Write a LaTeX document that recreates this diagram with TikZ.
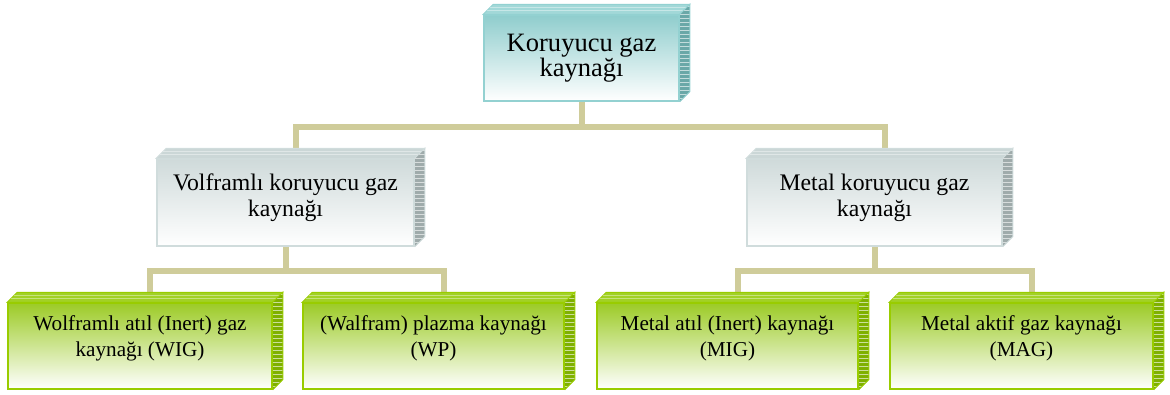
\documentclass[tikz,border=0pt]{standalone}
\usepackage{fontspec}
\setmainfont{Liberation Serif}
\usetikzlibrary{calc, backgrounds}

\newdimen\px \px=0.75pt

\definecolor{tealTop}{HTML}{8FCDCD}
\definecolor{tealEdge}{HTML}{93D1D1}
\definecolor{tealLid}{HTML}{A2D8D8}
\definecolor{tealSide}{HTML}{6AA8A8}
\definecolor{grayTop}{HTML}{CFDADA}
\definecolor{grayEdge}{HTML}{D0DCDC}
\definecolor{grayLid}{HTML}{CBD7D7}
\definecolor{graySide}{HTML}{9FABAB}
\definecolor{greenTop}{HTML}{9CCB26}
\definecolor{greenEdge}{HTML}{99CC00}
\definecolor{greenLid}{HTML}{A2D126}
\definecolor{greenSide}{HTML}{7FB000}
\definecolor{branchCol}{HTML}{CFCC9A}

\begin{document}
\begin{tikzpicture}[
    x=\px, y=-\px,
    face/.style={rectangle, line width=1.5\px, inner sep=0pt, minimum height=86\px},
    tealface/.style={face, draw=tealEdge, top color=tealTop, bottom color=white},
    grayface/.style={face, draw=grayEdge, top color=grayTop, bottom color=white},
    greenface/.style={face, draw=greenEdge, top color=greenTop, bottom color=white},
    bigtxt/.style={align=center, inner sep=0pt, font=\fontsize{19.9}{19}\selectfont},
    midtxt/.style={align=center, inner sep=0pt, font=\fontsize{17.8}{19.5}\selectfont},
    smalltxt/.style={align=center, inner sep=0pt, font=\fontsize{15.9}{19.5}\selectfont},
    branch/.style={draw=branchCol, line width=6\px}
]
\useasboundingbox (0,0) rectangle (1170,394);

% Boxes
\node[tealface, minimum width=195\px] (koruyucu) at (581.5,58) {};
\node[grayface, minimum width=257\px, minimum height=87\px] (volfram) at (285.5,202.5) {};
\node[grayface, minimum width=255\px, minimum height=87\px] (metal) at (874.5,202.5) {};
\node[greenface, minimum width=264\px] (wig) at (140,346) {};
\node[greenface, minimum width=261\px] (wp) at (433.5,346) {};
\node[greenface, minimum width=261\px] (mig) at (727.5,346) {};
\node[greenface, minimum width=263\px] (mag) at (1021.5,346) {};

% Lid and side of each box
\foreach \n/\sty in {koruyucu/teal, volfram/gray, metal/gray, wig/green, wp/green, mig/green, mag/green} {
    \filldraw[fill=\sty Lid, draw=\sty Edge, line width=1\px]
        (\n.north west) -- ++(10,-10) -- ($(\n.north east)+(10,-10)$) -- (\n.north east) -- cycle;
    \draw[white, opacity=0.4, line width=1.2\px]
        ($(\n.north west)+(3.5,-3.5)$) -- ($(\n.north east)+(3.5,-3.5)$)
        ($(\n.north west)+(6.5,-6.5)$) -- ($(\n.north east)+(6.5,-6.5)$);
    \begin{scope}
        \clip (\n.north east) -- ++(10,-10) -- ($(\n.south east)+(10,-10)$) -- (\n.south east) -- cycle;
        \fill[\sty Side] ($(\n.north east)+(0,-10)$) rectangle ($(\n.south east)+(10,0)$);
        \foreach \k in {0,...,25}
            \draw[white, opacity=0.6, line width=1.4\px] ($(\n.north east)+(0,4*\k-8)$) -- ++(10,0);
    \end{scope}
    \draw[\sty Edge, line width=1\px]
        (\n.north east) -- ++(10,-10) -- ($(\n.south east)+(10,-10)$) -- (\n.south east);
}

% Texts
\node[bigtxt] (koruyucuTxt) at (koruyucu.center) {Koruyucu gaz\\kaynağı};
\node[midtxt] (volframTxt) at ([yshift=5\px]volfram.center) {Volframlı koruyucu gaz\\kaynağı};
\node[midtxt] (metalTxt) at ([yshift=5\px]metal.center) {Metal koruyucu gaz\\kaynağı};
\node[smalltxt] (wigTxt) at ([yshift=8\px]wig.center) {Wolframlı atıl (Inert) gaz\\kaynağı (WIG)};
\node[smalltxt] (wpTxt) at ([yshift=8\px]wp.center) {(Walfram) plazma kaynağı\\(WP)};
\node[smalltxt] (migTxt) at ([yshift=8\px]mig.center) {Metal atıl (Inert) kaynağı\\(MIG)};
\node[smalltxt] (magTxt) at ([yshift=8\px]mag.center) {Metal aktif gaz kaynağı\\(MAG)};

% Branches
\begin{scope}[on background layer]
    \draw[branch] (koruyucu.south) -- ++(0,25) -| ([xshift=10\px]volfram.north);
    \draw[branch] (koruyucu.south) -- ++(0,25) -| ([xshift=10\px]metal.north);
    \draw[branch] (volfram.south) -- ++(0,24) -| ([xshift=10\px]wig.north);
    \draw[branch] (volfram.south) -- ++(0,24) -| ([xshift=10\px]wp.north);
    \draw[branch] (metal.south) -- ++(0,24) -| ([xshift=10\px]mig.north);
    \draw[branch] (metal.south) -- ++(0,24) -| ([xshift=10\px]mag.north);
\end{scope}

\end{tikzpicture}
\end{document}
